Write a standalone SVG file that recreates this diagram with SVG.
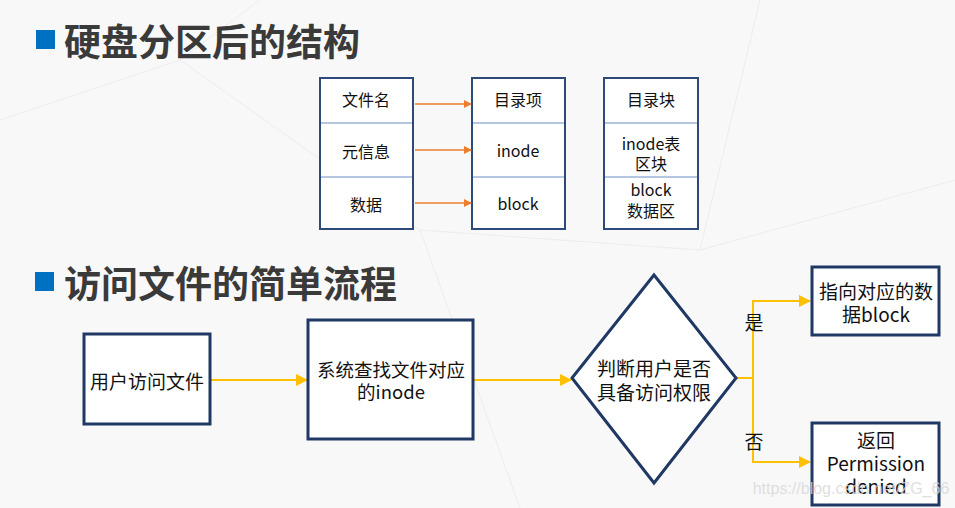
<svg xmlns="http://www.w3.org/2000/svg" width="955" height="508" viewBox="0 0 955 508">
<defs>
<style>
text{font-family:"Noto Sans CJK SC","Noto Sans",sans-serif;fill:#111;text-anchor:middle;dominant-baseline:central}
.title{font-size:37px;font-weight:bold;fill:#3a3a3a;text-anchor:start}
.t{font-size:16px}
.f{font-size:19px}
.f2{font-size:18.5px}
.tbl{fill:#fff;stroke:#2e4a78;stroke-width:2}
.div{stroke:#9db4d6;stroke-width:1.5}
.oa{stroke:#ed7d31;stroke-width:1.5;fill:none;marker-end:url(#ao)}
.ya{stroke:#ffc000;stroke-width:2;fill:none}
.box{fill:#fff;stroke:#1f3864;stroke-width:3}
</style>
<marker id="ao" markerWidth="8" markerHeight="8" refX="7" refY="4" orient="auto" markerUnits="userSpaceOnUse"><path d="M0,0 L8,4 L0,8 z" fill="#ed7d31"/></marker>
<marker id="ay" markerWidth="12" markerHeight="12" refX="11" refY="6" orient="auto" markerUnits="userSpaceOnUse"><path d="M0,0 L12,6 L0,12 z" fill="#ffc000"/></marker>
</defs>
<rect width="955" height="508" fill="#f8f8f8"/>
<g stroke="#ececec" stroke-width="1" fill="none">
<path d="M0,120 L180,60 L420,230 L700,250 L955,180"/>
<path d="M180,60 L260,0"/>
<path d="M420,230 L520,508"/>
<path d="M700,250 L760,0"/>
</g>
<g id="title1">
<rect x="36" y="30" width="19" height="19" fill="#0070c0"/>
<text class="title" x="64" y="40">硬盘分区后的结构</text>
</g>
<g id="title2">
<rect x="35" y="272" width="19" height="19" fill="#0070c0"/>
<text class="title" x="64" y="282">访问文件的简单流程</text>
</g>
<g id="table-left">
<rect class="tbl" x="320" y="78" width="93" height="151"/>
<line class="div" x1="321" y1="123" x2="412" y2="123"/>
<line class="div" x1="321" y1="177" x2="412" y2="177"/>
<text class="t" x="366" y="99">文件名</text>
<text class="t" x="366" y="151">元信息</text>
<text class="t" x="366" y="204">数据</text>
</g>
<g id="table-mid">
<rect class="tbl" x="472" y="78" width="93" height="151"/>
<line class="div" x1="473" y1="123" x2="564" y2="123"/>
<line class="div" x1="473" y1="177" x2="564" y2="177"/>
<text class="t" x="518" y="99">目录项</text>
<text class="t" x="518" y="150">inode</text>
<text class="t" x="518" y="203">block</text>
</g>
<g id="table-right">
<rect class="tbl" x="604" y="78" width="94" height="151"/>
<line class="div" x1="605" y1="123" x2="697" y2="123"/>
<line class="div" x1="605" y1="177" x2="697" y2="177"/>
<text class="t" x="651" y="143">inode表</text>
<text class="t" x="651" y="99">目录块</text>
<text class="t" x="651" y="163">区块</text>
<text class="t" x="651" y="189">block</text>
<text class="t" x="651" y="210">数据区</text>
</g>
<g id="connectors">
<line class="oa" x1="415" y1="104" x2="471" y2="104"/>
<line class="oa" x1="415" y1="150" x2="471" y2="150"/>
<line class="oa" x1="415" y1="203" x2="471" y2="203"/>
<line class="ya" x1="211" y1="380" x2="307" y2="380" marker-end="url(#ay)"/>
<line class="ya" x1="474" y1="380" x2="571" y2="380" marker-end="url(#ay)"/>
<path class="ya" d="M737,378 H753 V301 H810" marker-end="url(#ay)"/>
<path class="ya" d="M753,378 V462 H810" marker-end="url(#ay)"/>
<text class="f" x="754" y="321">是</text>
<text class="f" x="754" y="440">否</text>
</g>
<g id="n-user">
<rect class="box" x="84" y="334" width="126" height="90"/>
<text class="f" x="147" y="380">用户访问文件</text>
</g>
<g id="n-find">
<rect class="box" x="308" y="320" width="165" height="119"/>
<text class="f2" x="391" y="369">系统查找文件对应</text>
<text class="f2" x="391" y="391">的inode</text>
</g>
<g id="n-judge">
<polygon points="654,275 736,378 654,483 572,378" fill="#fff" stroke="#1f3864" stroke-width="3"/>
<text class="f" x="654" y="367">判断用户是否</text>
<text class="f" x="654" y="391">具备访问权限</text>
</g>
<g id="n-block">
<rect class="box" x="812" y="267" width="127" height="68"/>
<text class="f" x="876" y="290">指向对应的数</text>
<text class="f" x="876" y="313">据block</text>
</g>
<g id="n-denied">
<rect class="box" x="812" y="423" width="127" height="82"/>
<text class="f" x="876" y="439">返回</text>
<text class="f" x="876" y="462">Permission</text>
<text class="f" x="876" y="485">denied</text>
</g>
<text x="851" y="488" style="font-family:'Liberation Sans',sans-serif;font-size:16px;fill:#d8d8d8;opacity:0.8">https://blog.csdn.net/ZG_66</text>
</svg>
